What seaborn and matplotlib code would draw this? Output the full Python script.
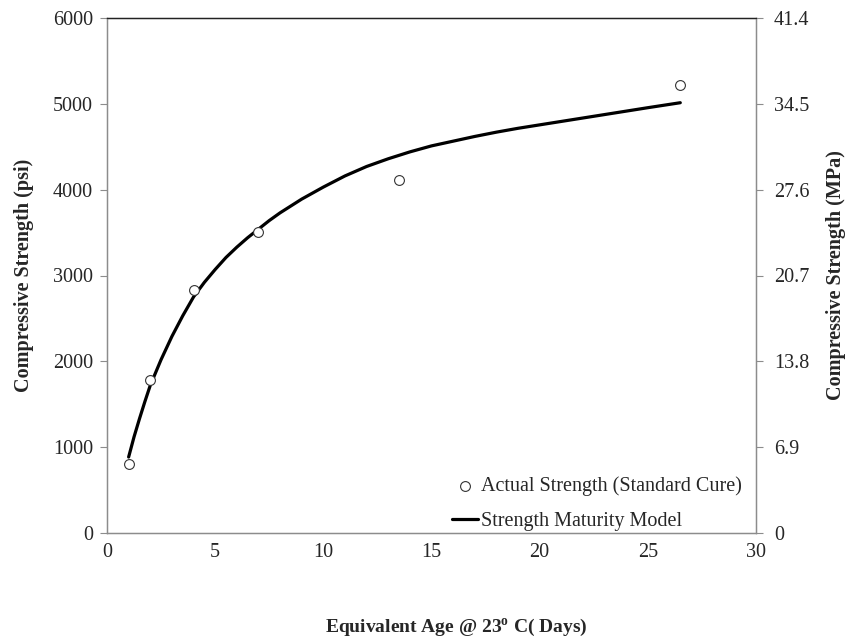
import matplotlib
matplotlib.use("Agg")
import matplotlib.pyplot as plt
import seaborn as sns
import numpy as np
import pandas as pd

# Measured data (standard cure)
age_actual = [1, 2, 4, 7, 13.5, 26.5]
strength_actual = [805, 1782, 2830, 3507, 4110, 5215]

# Strength maturity model curve
age_model = [1, 1.25, 1.5, 1.75, 2, 2.5, 3, 3.5, 4, 4.5, 5, 5.5, 6, 6.5, 7, 7.5, 8,
             9, 10, 11, 12, 13, 14, 15, 16, 17, 18, 19, 20.5, 22, 23.5, 25, 26.5]
strength_model = [885, 1120, 1330, 1530, 1720, 2020, 2290, 2530, 2750, 2920,
                  3070, 3210, 3330, 3440, 3540, 3640, 3730, 3890, 4030, 4160,
                  4270, 4360, 4440, 4510, 4565, 4620, 4670, 4715, 4775, 4835,
                  4895, 4955, 5013]

left_ticks = [0, 1000, 2000, 3000, 4000, 5000, 6000]
right_ticks = [0, 6.9, 13.8, 20.7, 27.6, 34.5, 41.4]
right_labels = ["0", "6.9", "13.8", "20.7", "27.6", "34.5", "41.4"]
x_ticks = [0, 5, 10, 15, 20, 25, 30]

sns.set_style("white")
plt.rcParams['font.family'] = ['Liberation Serif', 'DejaVu Serif']
plt.rcParams['mathtext.fontset'] = 'custom'
plt.rcParams['mathtext.rm'] = 'Liberation Serif'
plt.rcParams['mathtext.bf'] = 'Liberation Serif:bold'

FS = 14.5

fig = plt.figure(figsize=(8.48, 6.4), dpi=100)
ax = fig.add_axes([107/848, 1 - 533/640, (756-107)/848, (533-18)/640])

df_a = pd.DataFrame({"age": age_actual, "s": strength_actual})
df_m = pd.DataFrame({"age": age_model, "s": strength_model})

sns.lineplot(data=df_m, x="age", y="s", ax=ax, color="black", linewidth=2.3,
             label="Strength Maturity Model", zorder=2)
sns.scatterplot(data=df_a, x="age", y="s", ax=ax, s=50, facecolor="white",
                edgecolor="#333333", linewidth=0.8, marker="o",
                label="Actual Strength (Standard Cure)", zorder=3)

ax.set_xlim(0, 30)
ax.set_ylim(0, 6000)
ax.set_xticks(x_ticks)
ax.set_yticks(left_ticks)

gray = "#8c8c8c"
for side in ["left", "bottom", "right"]:
    ax.spines[side].set_color(gray)
    ax.spines[side].set_linewidth(1.0)
ax.spines["top"].set_color("#222222")
ax.spines["top"].set_linewidth(1.0)
ax.tick_params(axis="both", which="major", direction="out", length=5,
               color=gray, labelsize=FS, pad=5)
ax.tick_params(axis="x", pad=2)

ax.set_xlabel(r"Equivalent Age @ 23$^{\mathbf{o}}$ C( Days)", fontsize=FS - 0.5,
              fontweight="bold", va="center")
ax.xaxis.set_label_coords((456 - 107) / 649, (533 - 628) / 515)
ax.set_ylabel("Compressive Strength (psi)", fontsize=FS, fontweight="bold",
              labelpad=14)

ax2 = ax.twinx()
ax2.set_ylim(0, 41.4)
ax2.set_yticks(right_ticks)
ax2.set_yticklabels(right_labels)
for side in ["left", "bottom", "right"]:
    ax2.spines[side].set_color(gray)
ax2.spines["top"].set_color("#222222")
ax2.tick_params(axis="y", direction="out", length=5, color=gray,
                labelsize=FS, pad=8)
ax2.set_ylabel("Compressive Strength (MPa)", fontsize=FS, fontweight="bold",
               labelpad=12)

handles, labels = ax.get_legend_handles_labels()
order = [labels.index("Actual Strength (Standard Cure)"),
         labels.index("Strength Maturity Model")]
leg = ax.legend([handles[i] for i in order], [labels[i] for i in order],
                loc="lower right", bbox_to_anchor=(1.0, -0.024), frameon=False,
                fontsize=FS, handlelength=1.3, handletextpad=0.15,
                labelspacing=0.8, borderaxespad=0.3)

fig.savefig("out.png", dpi=100)
